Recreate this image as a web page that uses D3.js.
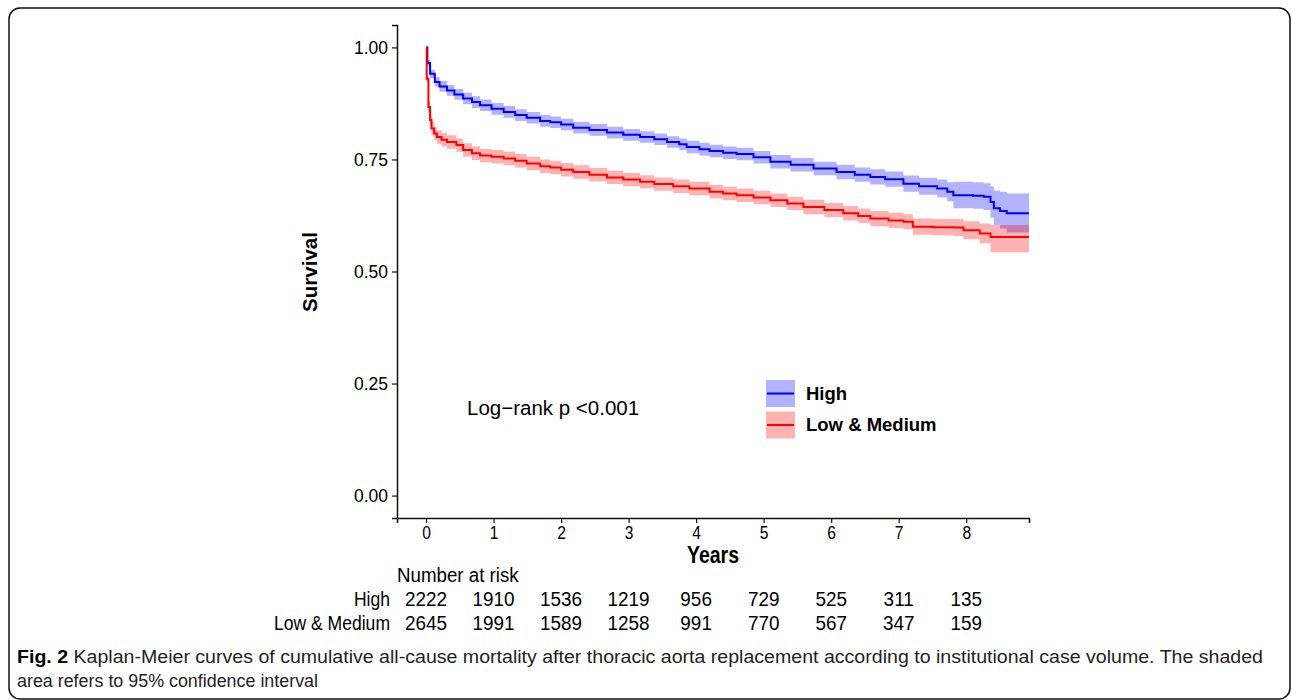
<!DOCTYPE html>
<html>
<head>
<meta charset="utf-8">
<script src="https://cdn.jsdelivr.net/npm/d3@7"></script>
<style>
  body { margin:0; background:#fff; }
  .tick text { fill:#000; }
  .narrow { font-family:"Liberation Sans",Arial,sans-serif; }
</style>
</head>
<body>
<svg id="viewer"></svg>
<script>
// survival curves
var highTime  = [0, 0.02, 0.06, 0.13, 0.2, 0.31, 0.42, 0.55, 0.68, 0.8, 0.97, 1.15, 1.32, 1.49, 1.69, 1.84, 2.0, 2.18, 2.42, 2.68, 2.92, 3.17, 3.38, 3.57, 3.75, 3.86, 4.05, 4.2, 4.4, 4.6, 4.85, 5.1, 5.4, 5.74, 6.08, 6.35, 6.58, 6.8, 7.07, 7.3, 7.57, 7.72, 7.81, 8.1, 8.26, 8.36, 8.41, 8.5, 8.6, 8.93];
var highSurv  = [1.0, 0.965, 0.941, 0.923, 0.913, 0.904, 0.895, 0.886, 0.878, 0.871, 0.863, 0.856, 0.849, 0.843, 0.836, 0.833, 0.828, 0.821, 0.816, 0.810, 0.805, 0.800, 0.795, 0.789, 0.784, 0.778, 0.773, 0.769, 0.765, 0.762, 0.755, 0.745, 0.738, 0.730, 0.722, 0.716, 0.711, 0.706, 0.696, 0.690, 0.685, 0.678, 0.670, 0.669, 0.667, 0.655, 0.641, 0.635, 0.630, 0.630];
var highUpper = [1.0, 0.972, 0.950, 0.934, 0.925, 0.916, 0.907, 0.899, 0.891, 0.884, 0.876, 0.869, 0.862, 0.856, 0.849, 0.846, 0.841, 0.834, 0.829, 0.823, 0.818, 0.813, 0.808, 0.802, 0.797, 0.792, 0.787, 0.783, 0.779, 0.776, 0.769, 0.760, 0.753, 0.745, 0.738, 0.732, 0.728, 0.723, 0.714, 0.709, 0.705, 0.699, 0.700, 0.699, 0.697, 0.690, 0.681, 0.678, 0.674, 0.674];
var highLower = [1.0, 0.958, 0.932, 0.912, 0.901, 0.892, 0.883, 0.873, 0.865, 0.858, 0.850, 0.843, 0.836, 0.830, 0.823, 0.820, 0.815, 0.808, 0.803, 0.797, 0.792, 0.787, 0.782, 0.776, 0.771, 0.764, 0.759, 0.755, 0.751, 0.748, 0.741, 0.730, 0.723, 0.715, 0.706, 0.700, 0.694, 0.689, 0.678, 0.671, 0.665, 0.657, 0.641, 0.640, 0.637, 0.620, 0.604, 0.596, 0.587, 0.587];

var lowTime  = [0, 0.01, 0.035, 0.06, 0.08, 0.12, 0.16, 0.23, 0.31, 0.45, 0.55, 0.68, 0.8, 0.97, 1.15, 1.32, 1.49, 1.69, 1.84, 2.0, 2.18, 2.42, 2.68, 2.92, 3.17, 3.38, 3.66, 3.9, 4.2, 4.4, 4.6, 4.85, 5.1, 5.35, 5.59, 5.9, 6.18, 6.4, 6.58, 6.85, 7.07, 7.21, 7.5, 7.81, 7.96, 8.2, 8.36, 8.93];
var lowSurv  = [1.0, 0.930, 0.867, 0.838, 0.819, 0.808, 0.800, 0.794, 0.789, 0.782, 0.771, 0.764, 0.759, 0.756, 0.752, 0.747, 0.741, 0.735, 0.732, 0.727, 0.722, 0.716, 0.710, 0.705, 0.700, 0.695, 0.690, 0.685, 0.678, 0.674, 0.670, 0.665, 0.659, 0.652, 0.644, 0.637, 0.630, 0.624, 0.618, 0.614, 0.611, 0.600, 0.599, 0.598, 0.592, 0.585, 0.577, 0.577];
var lowUpper = [1.0, 0.938, 0.880, 0.853, 0.834, 0.823, 0.815, 0.809, 0.804, 0.797, 0.786, 0.779, 0.774, 0.771, 0.767, 0.762, 0.756, 0.750, 0.747, 0.742, 0.737, 0.731, 0.725, 0.720, 0.715, 0.710, 0.705, 0.700, 0.693, 0.689, 0.685, 0.680, 0.674, 0.667, 0.660, 0.653, 0.646, 0.640, 0.635, 0.631, 0.628, 0.618, 0.617, 0.617, 0.612, 0.607, 0.604, 0.604];
var lowLower = [1.0, 0.922, 0.854, 0.823, 0.804, 0.793, 0.785, 0.779, 0.774, 0.767, 0.756, 0.749, 0.744, 0.741, 0.737, 0.732, 0.726, 0.720, 0.717, 0.712, 0.707, 0.701, 0.695, 0.690, 0.685, 0.680, 0.675, 0.670, 0.663, 0.659, 0.655, 0.650, 0.644, 0.637, 0.628, 0.621, 0.614, 0.608, 0.601, 0.597, 0.594, 0.582, 0.581, 0.579, 0.572, 0.563, 0.543, 0.543];

var xTicks = [0, 1, 2, 3, 4, 5, 6, 7, 8];
var yTicks = [0, 0.25, 0.5, 0.75, 1];
var riskHigh = [2222, 1910, 1536, 1219, 956, 729, 525, 311, 135];
var riskLow  = [2645, 1991, 1589, 1258, 991, 770, 567, 347, 159];

var groups = [
  {name:'High', color:'#0000ff', fill:'rgba(0,0,255,0.3)', time:highTime, surv:highSurv, upper:highUpper, lower:highLower, risk:riskHigh},
  {name:'Low & Medium', color:'#ff0000', fill:'rgba(255,0,0,0.3)', time:lowTime, surv:lowSurv, upper:lowUpper, lower:lowLower, risk:riskLow}
];

var viewer = d3.select('#viewer')
  .attr('width',1292)
  .attr('height',700);

// frame round the figure
viewer.append('rect')
  .attr('x',9).attr('y',8)
  .attr('width',1281).attr('height',691)
  .attr('rx',11)
  .style('fill','none')
  .style('stroke','#111')
  .style('stroke-width',1.5);

var x = d3.scaleLinear().domain([-0.43,8.93]).range([397,1029]);
var y = d3.scaleLinear().domain([-0.05,1.05]).range([518,25]);

function rows(g)
{
  return g.time.map(function(t,i){return {t:t, s:g.surv[i], u:g.upper[i], l:g.lower[i]};});
}

var band = d3.area()
  .curve(d3.curveStepAfter)
  .x(function(d){return x(d.t);})
  .y0(function(d){return y(d.l);})
  .y1(function(d){return y(d.u);});

var line = d3.line()
  .curve(d3.curveStepAfter)
  .x(function(d){return x(d.t);})
  .y(function(d){return y(d.s);});

viewer.selectAll('.band')
  .data(groups)
  .enter().append('path')
    .attr('class','band')
    .attr('d',function(d){return band(rows(d));})
    .style('fill',function(d){return d.fill;})
    .style('stroke','none');

viewer.selectAll('.curve')
  .data(groups)
  .enter().append('path')
    .attr('class','curve')
    .attr('d',function(d){return line(rows(d));})
    .style('fill','none')
    .style('stroke',function(d){return d.color;})
    .style('stroke-width',2);

// axes
var yAxis = viewer.append('g')
  .attr('transform','translate(397,0)')
  .call(d3.axisLeft(y).tickValues(yTicks).tickFormat(d3.format('.2f')).tickSizeOuter(0).tickSize(5).tickPadding(4));
yAxis.select('.domain').style('stroke','#111').style('stroke-width',1.5);
yAxis.selectAll('.tick line').style('stroke','#111').style('stroke-width',1.2);
yAxis.selectAll('.tick text')
  .style('font-family','"Liberation Sans",Arial,sans-serif')
  .style('font-size','17.5px');

var xAxis = viewer.append('g')
  .attr('transform','translate(0,518)')
  .call(d3.axisBottom(x).tickValues(xTicks).tickSizeOuter(0).tickSize(5).tickPadding(3));
xAxis.select('.domain').style('stroke','#111').style('stroke-width',1.5);
xAxis.selectAll('.tick line').style('stroke','#111').style('stroke-width',1.2);
xAxis.selectAll('.tick text')
  .attr('class','narrow')
  .attr('transform','scale(0.82,1)')
  .style('font-size','19px');

viewer.append('text')
  .attr('class','narrow')
  .attr('transform','translate(713,563) scale(0.85,1)')
  .attr('text-anchor','middle')
  .style('font-size','23px')
  .style('font-weight','bold')
  .text('Years');

viewer.append('text')
  .attr('transform','translate(317,272) rotate(-90)')
  .attr('text-anchor','middle')
  .style('font-family','"Liberation Sans",Arial,sans-serif')
  .style('font-size','20.5px')
  .style('font-weight','bold')
  .text('Survival');

viewer.append('text')
  .attr('x',467).attr('y',415)
  .style('font-family','"Liberation Sans",Arial,sans-serif')
  .style('font-size','20.5px')
  .text('Log\u2212rank p <0.001');

// legend
var legend = viewer.selectAll('.legend')
  .data(groups)
  .enter().append('g')
    .attr('class','legend')
    .attr('transform',function(d,i){return 'translate(766,'+(380+i*31.5)+')';});

legend.append('rect')
  .attr('width',29).attr('height',27)
  .style('fill',function(d){return d.fill;});

legend.append('line')
  .attr('x1',1).attr('x2',28)
  .attr('y1',13.5).attr('y2',13.5)
  .style('stroke',function(d){return d.color;})
  .style('stroke-width',2);

legend.append('text')
  .attr('x',40).attr('y',19.5)
  .style('font-family','"Liberation Sans",Arial,sans-serif')
  .style('font-size','18.5px')
  .style('font-weight','bold')
  .text(function(d){return d.name;});

// number at risk table
viewer.append('text')
  .attr('class','narrow')
  .attr('transform','translate(397,582) scale(0.96,1)')
  .style('font-size','19.5px')
  .text('Number at risk');

var riskRows = viewer.selectAll('.riskRow')
  .data(groups)
  .enter().append('g')
    .attr('class','riskRow narrow')
    .attr('transform',function(d,i){return 'translate(0,'+(606+i*24)+')';})
    .style('font-size','19.5px');

riskRows.append('text')
  .attr('transform','translate(390,0) scale(0.9,1)')
  .attr('text-anchor','end')
  .text(function(d){return d.name;});

riskRows.selectAll('.n')
  .data(function(d){return d.risk;})
  .enter().append('text')
    .attr('class','n')
    .attr('transform',function(d,i){return 'translate('+x(xTicks[i])+',0) scale(0.97,1)';})
    .attr('text-anchor','middle')
    .text(function(d){return d;});

// caption
var cap1 = viewer.append('text')
  .attr('class','narrow')
  .attr('x',17).attr('y',663)
  .attr('textLength',1246)
  .attr('lengthAdjust','spacingAndGlyphs')
  .style('font-size','17.5px')
  .style('fill','#222');
cap1.append('tspan').style('font-weight','bold').style('fill','#000').text('Fig. 2');
cap1.append('tspan').text(' Kaplan-Meier curves of cumulative all-cause mortality after thoracic aorta replacement according to institutional case volume. The shaded');

viewer.append('text')
  .attr('class','narrow')
  .attr('x',17).attr('y',687)
  .attr('textLength',301)
  .attr('lengthAdjust','spacingAndGlyphs')
  .style('font-size','17.5px')
  .style('fill','#222')
  .text('area refers to 95% confidence interval');
</script>
</body>
</html>
